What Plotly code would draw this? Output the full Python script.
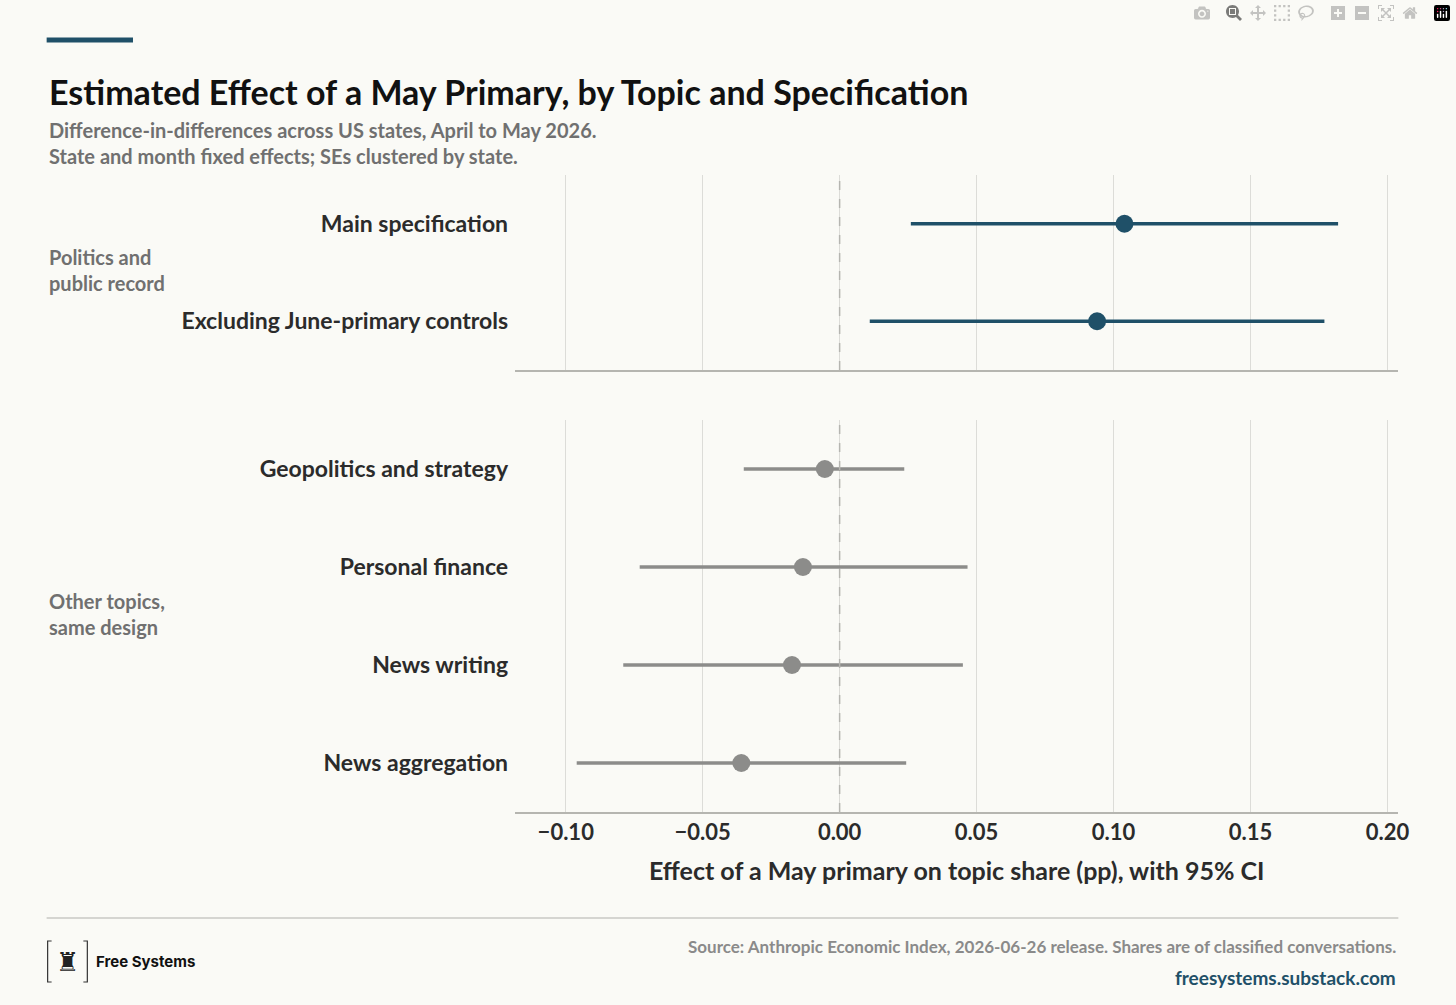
import plotly.graph_objects as go

top_labels = ["Main specification", "Excluding June-primary controls"]
top_est = [0.104, 0.094]
top_lo = [0.026, 0.011]
top_hi = [0.182, 0.177]

bot_labels = ["Geopolitics and strategy", "Personal finance", "News writing", "News aggregation"]
bot_est = [-0.0054, -0.0134, -0.0174, -0.0359]
bot_lo = [-0.035, -0.073, -0.079, -0.096]
bot_hi = [0.0236, 0.0467, 0.045, 0.0243]

xticks = [-0.10, -0.05, 0.00, 0.05, 0.10, 0.15, 0.20]
xticklabels = ["\u22120.10", "\u22120.05", "0.00", "0.05", "0.10", "0.15", "0.20"]

W, H = 1456, 1005
BG = "#fafaf6"
BLUE = "#1f5068"
GREY = "#8c8c8a"
FONT = "Lato"

def px(x): return x / W
def py(y): return 1 - y / H

fig = go.Figure()

def add_panel(labels, est, lo, hi, color, xa, ya):
    for l, e, a, b in zip(labels, est, lo, hi):
        fig.add_trace(go.Scatter(x=[a, b], y=[l, l], mode="lines", line=dict(color=color, width=3.5),
                                 xaxis=xa, yaxis=ya, showlegend=False, hoverinfo="skip"))
    fig.add_trace(go.Scatter(x=est, y=labels, mode="markers", marker=dict(color=color, size=18),
                             xaxis=xa, yaxis=ya, showlegend=False))

add_panel(top_labels, top_est, top_lo, top_hi, BLUE, "x", "y")
add_panel(bot_labels, bot_est, bot_lo, bot_hi, GREY, "x2", "y2")

xr = [-0.1185, 0.204]
common_x = dict(range=xr, tickvals=xticks, showgrid=True, gridcolor="#dcdcd8", gridwidth=1,
                zeroline=False, showline=True, linecolor="#b5b5b0", linewidth=1.5,
                domain=[px(519), px(1409)], fixedrange=True)
fig.update_layout(
    xaxis=dict(**common_x, anchor="y", showticklabels=False),
    xaxis2=dict(**common_x, anchor="y2", ticktext=xticklabels, ticks="",
                tickfont=dict(family=FONT, size=22, color="#2b2b2b", weight="bold"),
                title=dict(text="Effect of a May primary on topic share (pp), with 95% CI",
                           font=dict(family=FONT, size=25, color="#2b2b2b", weight="bold"), standoff=18)),
    yaxis=dict(domain=[py(370), py(175)], anchor="x", categoryorder="array", categoryarray=top_labels,
               range=[1.5, -0.5], showgrid=False, zeroline=False, ticks="", ticklabelstandoff=6,
               tickfont=dict(family=FONT, size=23, color="#2b2b2b", weight="bold")),
    yaxis2=dict(domain=[py(812), py(420)], anchor="x2", categoryorder="array", categoryarray=bot_labels,
                range=[3.5, -0.5], showgrid=False, zeroline=False, ticks="", ticklabelstandoff=6,
                tickfont=dict(family=FONT, size=23, color="#2b2b2b", weight="bold")),
    width=W, height=H, margin=dict(l=0, r=0, t=0, b=0),
    paper_bgcolor=BG, plot_bgcolor=BG,
)

shapes = [
    dict(type="line", xref="x", yref="y domain", x0=0, x1=0, y0=0, y1=1, line=dict(color="#b5b5b0", width=1.5, dash="dash")),
    dict(type="line", xref="x2", yref="y2 domain", x0=0, x1=0, y0=0, y1=1, line=dict(color="#b5b5b0", width=1.5, dash="dash")),
    dict(type="line", xref="paper", yref="paper", x0=px(47), x1=px(134), y0=py(40), y1=py(40), line=dict(color=BLUE, width=5)),
    dict(type="line", xref="paper", yref="paper", x0=px(47), x1=px(1409), y0=py(918), y1=py(918), line=dict(color="#c8c8c4", width=1.5)),
    # logo brackets
    dict(type="path", xref="paper", yref="paper",
         path=f"M {px(52)},{py(941)} L {px(48)},{py(941)} L {px(48)},{py(982)} L {px(52)},{py(982)}",
         line=dict(color="#333", width=1.2)),
    dict(type="path", xref="paper", yref="paper",
         path=f"M {px(84)},{py(941)} L {px(88)},{py(941)} L {px(88)},{py(982)} L {px(84)},{py(982)}",
         line=dict(color="#333", width=1.2)),
]
fig.update_layout(shapes=shapes)

ann = [
    dict(x=px(47), y=py(92), text="Estimated Effect of a May Primary, by Topic and Specification",
         font=dict(family=FONT, size=34, color="#111", weight="bold"), xanchor="left", yanchor="middle"),
    dict(x=px(47), y=py(143), text="Difference-in-differences across US states, April to May 2026.<br>State and month fixed effects; SEs clustered by state.",
         font=dict(family=FONT, size=20, color="#707070", weight="bold"), xanchor="left", yanchor="middle", align="left"),
    dict(x=px(47), y=py(270), text="Politics and<br>public record",
         font=dict(family=FONT, size=20, color="#707070", weight="bold"), xanchor="left", yanchor="middle", align="left"),
    dict(x=px(47), y=py(614), text="Other topics,<br>same design",
         font=dict(family=FONT, size=20, color="#707070", weight="bold"), xanchor="left", yanchor="middle", align="left"),
    dict(x=px(1409), y=py(946), text="Source: Anthropic Economic Index, 2026-06-26 release. Shares are of classified conversations.",
         font=dict(family=FONT, size=17, color="#8a8a8a", weight="bold"), xanchor="right", yanchor="middle"),
    dict(x=px(1409), y=py(977), text="freesystems.substack.com",
         font=dict(family=FONT, size=19, color=BLUE, weight="bold"), xanchor="right", yanchor="middle"),
    dict(x=px(68), y=py(962), text="\u265c",
         font=dict(family="DejaVu Sans", size=26, color="#222"), xanchor="center", yanchor="middle"),
    dict(x=px(95), y=py(961), text="Free Systems",
         font=dict(family="Inter", size=15, color="#111", weight="bold"), xanchor="left", yanchor="middle"),
]
for a in ann:
    a.update(xref="paper", yref="paper", showarrow=False)
fig.update_layout(annotations=ann)

fig.write_html("out.html")
with open("out.html", encoding="utf-8") as f:
    html = f.read()
html = html.replace("<head>", "<head><style>html,body{margin:0;padding:0;overflow:hidden;}</style>", 1)
with open("out.html", "w", encoding="utf-8") as f:
    f.write(html)
